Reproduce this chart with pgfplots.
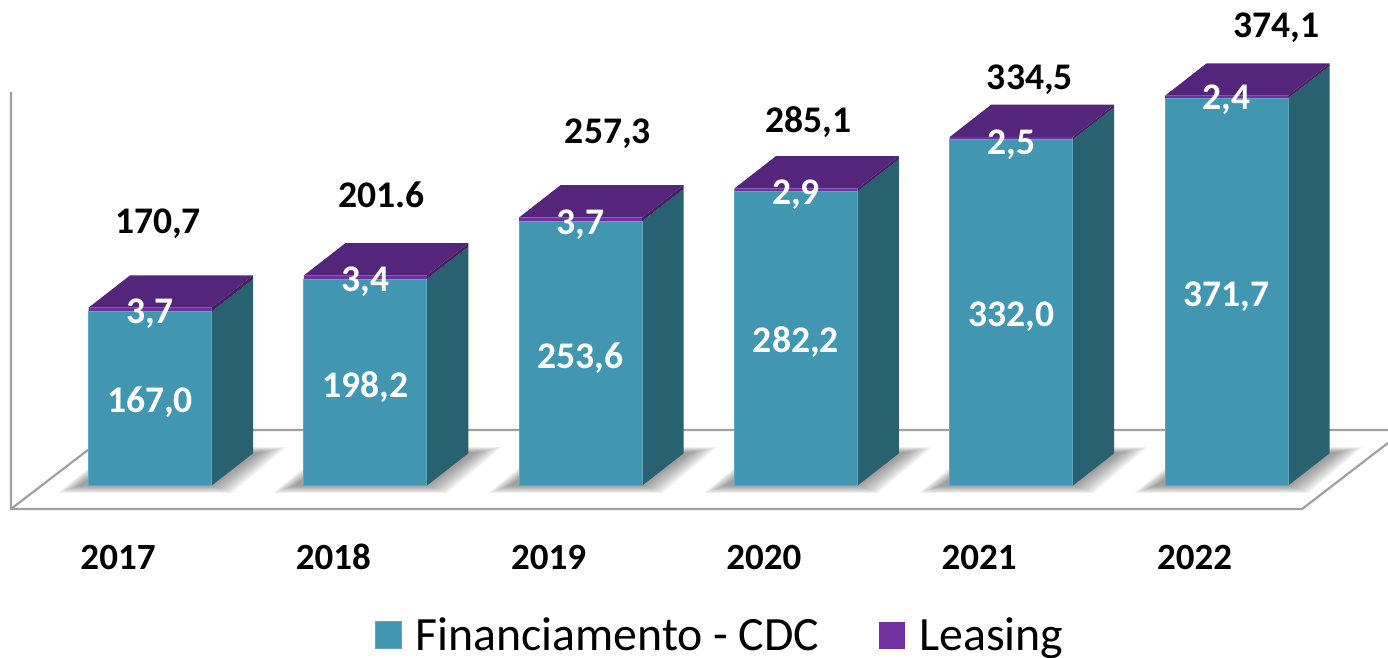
\documentclass[border=0pt]{standalone}
\usepackage{pgfplots}
\pgfplotsset{compat=1.18}
\usepackage{fontspec}
\setmainfont{Carlito}
\definecolor{teal1}{HTML}{4197B2}
\definecolor{teal2}{HTML}{28616F}
\definecolor{pur1}{HTML}{7030A0}
\definecolor{pur2}{HTML}{54257A}
\definecolor{pur3}{HTML}{43205F}
\definecolor{gline}{HTML}{A0A0A0}
\pgfplotsset{sq/.style={legend image code/.code={\fill[##1] (0pt,-6.7pt) rectangle (13pt,6.8pt);}}}
\newcommand\shadowbar[1]{%
 \pgfplotsinvokeforeach{0,1,2,3,4,5,6,7,8,9}{%
  \pgfmathsetmacro{\xa}{#1+(-92+2.4*##1)/215.3}%
  \pgfmathsetmacro{\xb}{#1+(82-2.2*##1)/215.3}%
  \pgfmathsetmacro{\xc}{#1+(136-3*##1)/215.3}%
  \pgfmathsetmacro{\xd}{#1+(-36+1.4*##1)/215.3}%
  \pgfmathsetmacro{\ya}{-7+0.8*##1}%
  \pgfmathsetmacro{\yb}{37-0.6*##1}%
  \addplot[draw=none,fill=black!70,fill opacity=0.075,forget plot] coordinates {(\xa,\ya)(\xb,\ya)(\xc,\yb)(\xd,\yb)} --cycle;
 }}
\newcommand\boxfaces[3]{% centre, cdc top, total
 \pgfmathsetmacro{\xl}{#1-0.2856}%
 \pgfmathsetmacro{\xr}{#1+0.2856}%
 \pgfmathsetmacro{\xlb}{#1-0.2856+0.1928}%
 \pgfmathsetmacro{\xrb}{#1+0.2856+0.1928}%
 \pgfmathsetmacro{\ycb}{#2+31}%
 \pgfmathsetmacro{\ytb}{#3+31}%
 \addplot[draw=none,fill=teal2,forget plot] coordinates {(\xr,0)(\xrb,31)(\xrb,\ycb)(\xr,#2)} --cycle;
 \addplot[draw=none,fill=pur3,forget plot] coordinates {(\xr,#2)(\xrb,\ycb)(\xrb,\ytb)(\xr,#3)} --cycle;
 \addplot[draw=none,fill=pur2,forget plot] coordinates {(\xl,#3)(\xr,#3)(\xrb,\ytb)(\xlb,\ytb)} --cycle;
}
\begin{document}
\begin{tikzpicture}
\path[use as bounding box] (0,0) rectangle (694pt,329pt);
\begin{axis}[
 at={(0,0)},anchor=south west,
 scale only axis,width=694pt,height=329pt,
 xmin=-0.6967,xmax=5.7500,ymin=-165.3,ymax=465.9,
 axis line style={draw=none},tick style={draw=none},
 ytick=\empty,
 xtick={0,1,2,3,4,5},
 xticklabels={2017,2018,2019,2020,2021,2022},
 xticklabel style={font=\fontsize{18.5}{20}\selectfont\bfseries,anchor=base,xshift=-16pt,yshift=44.3pt},
 legend style={draw=none,fill=none,at={(0.5195,0)},anchor=south,yshift=0.4pt,legend columns=2,
   font=\fontsize{23.9}{26}\selectfont,
   /tikz/every odd column/.append style={column sep=5pt},
   /tikz/every even column/.append style={column sep=28pt},
   inner sep=0pt,outer sep=0pt},
 clip=false,
]
% floor and wall
\addplot[draw=gline,line width=1.1pt,forget plot] coordinates {(-0.6456,377.6)(-0.6456,-22.35)(5.351,-22.35)(5.75,41)};
\addplot[draw=gline,line width=1.1pt,forget plot] coordinates {(-0.6456,-22.35)(-0.167,53.4)(5.75,53.4)};
\shadowbar{0}\shadowbar{1}\shadowbar{2}\shadowbar{3}\shadowbar{4}\shadowbar{5}
\boxfaces{0}{167.0}{170.7}
\boxfaces{1}{198.2}{201.6}
\boxfaces{2}{253.6}{257.3}
\boxfaces{3}{282.2}{285.1}
\boxfaces{4}{332.0}{334.5}
\boxfaces{5}{371.7}{374.1}
\addplot[ybar,bar shift=0pt,bar width=61.5pt,draw=none,fill=pur1,forget plot] coordinates {(0,170.7)(1,201.6)(2,257.3)(3,285.1)(4,334.5)(5,374.1)};
\addplot[ybar,bar shift=0pt,bar width=61.5pt,draw=teal1!85!white,line width=0.35pt,fill=teal1,sq] coordinates {(0,167.0)(1,198.2)(2,253.6)(3,282.2)(4,332.0)(5,371.7)};
\addlegendentry{Financiamento - CDC}
\addlegendimage{sq,fill=pur1,draw=none}
\addlegendentry{Leasing}
% value labels
\addplot[draw=none,mark=none,forget plot,nodes near coords,point meta=explicit symbolic,
  nodes near coords style={anchor=center,text=white,inner sep=0pt,font=\fontsize{18.8}{20}\selectfont\bfseries}]
 table[meta=l] {
x y l
0 80 167,0
1 95 198,2
2 122 253,6
3 137.5 282,2
4 162 332,0
5 181.5 371,7
0 164.5 3,7
1 195.5 3,4
2 250 3,7
3 279 2,9
4 327.5 2,5
5 370 2,4
};
\addplot[draw=none,mark=none,forget plot,nodes near coords,point meta=explicit symbolic,
  nodes near coords style={anchor=center,text=black,inner sep=0pt,font=\fontsize{18.8}{20}\selectfont\bfseries}]
 table[meta=l] {
x y l
0.037 251 170,7
1.077 279 201.6
2.127 338 257,3
3.057 349 285,1
4.087 389.5 334,5
5.233 439 374,1
};
\end{axis}
\end{tikzpicture}
\end{document}
